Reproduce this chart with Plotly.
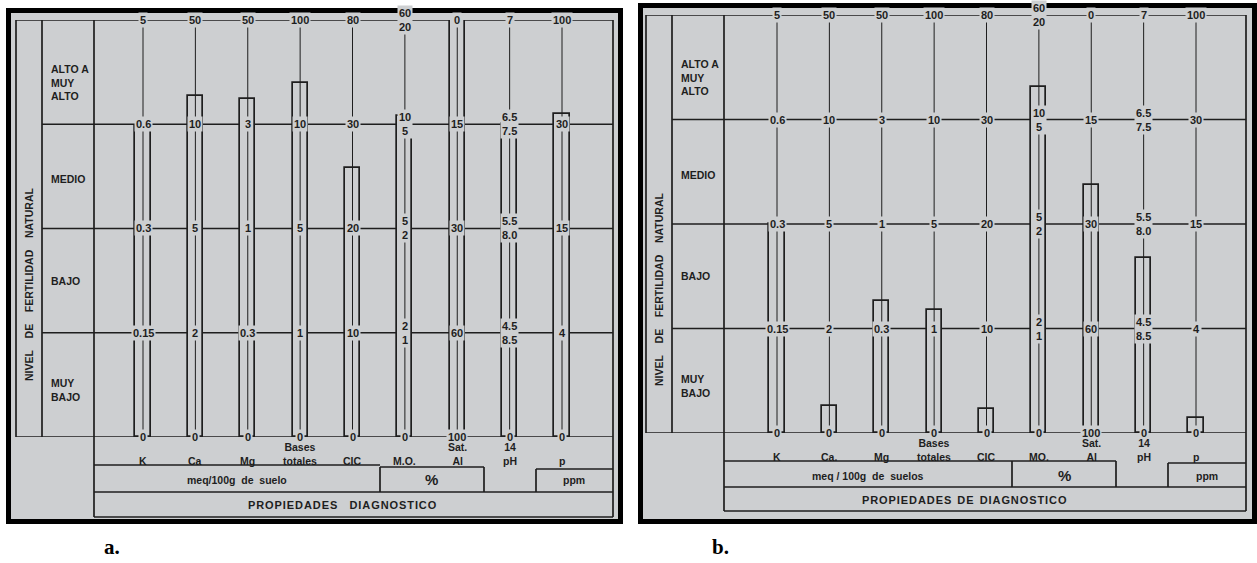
import plotly.graph_objects as go

W, H = 1257, 563

# ---------------- data ----------------
categories = ["K", "Ca", "Mg", "Bases totales", "CIC", "M.O.", "Sat. Al", "pH", "p"]
cat_labels_a = ["K", "Ca", "Mg", "Bases<br>totales", "CIC", "M.O.", "Sat.<br>Al", "14<br>pH", "p"]
cat_labels_b = ["K", "Ca.", "Mg", "Bases<br>totales", "CIC", "MO.", "Sat.<br>Al", "14<br>pH", "p"]

level_names = ["MUY<br>BAJO", "BAJO", "MEDIO", "ALTO A<br>MUY<br>ALTO"]

# scale values of each column at level boundaries 0..4 (bottom -> top)
ticks_K = ["0", "0.15", "0.3", "0.6", "5"]
ticks_Ca = ["0", "2", "5", "10", "50"]
ticks_Mg = ["0", "0.3", "1", "3", "50"]
ticks_Bases = ["0", "1", "5", "10", "100"]
ticks_CIC = ["0", "10", "20", "30", "80"]
ticks_MO = ["0", "2<br>1", "5<br>2", "10<br>5", "60<br>20"]
ticks_SatAl = ["100", "60", "30", "15", "0"]
ticks_pH = ["0", "4.5<br>8.5", "5.5<br>8.0", "6.5<br>7.5", "7"]
ticks_P = ["0", "4", "15", "30", "100"]
column_ticks = [ticks_K, ticks_Ca, ticks_Mg, ticks_Bases, ticks_CIC,
                ticks_MO, ticks_SatAl, ticks_pH, ticks_P]

# bar heights expressed on the fertility-level scale (0 = bottom, 4 = top)
heights_a = [2.98, 3.27, 3.24, 3.40, 2.58, 3.08, 4.0, 3.0, 3.1]
heights_b = [2.0, 0.26, 1.26, 1.18, 0.23, 3.31, 2.37, 1.67, 0.14]

# ---------------- style / geometry ----------------
GRAY = "#cdcfd1"
INK = "#1e1e1e"
FONT = "Liberation Sans Narrow, Liberation Sans, Arial, sans-serif"
NB = "\u00a0"
HAIR = "\u200a"


def spaced(s):
    return HAIR.join(s)


def px(x):
    return x / W


def py(y):
    return 1 - y / H


panels = [
    dict(name="a", xa="x", ya="y", heights=heights_a, cats=cat_labels_a,
         frame=(6, 8, 623, 524), left=16, mid=42, colleft=94, right=613,
         top=20, bottom=437, kx=143, px_=562,
         labline=465, pct=(380, 484, 467), ppm=(536, 469), line2=492, line3=517,
         unit_text="meq/100g" + NB * 2 + "de" + NB * 2 + "suelo", unit_x=237, unit_y=480,
         pct_x=432, ppm_x=574,
         prop_text=spaced("PROPIEDADES") + NB * 4 + spaced("DIAGNOSTICO"),
         prop_x=342, prop_y=505, nivel_y=285, tag="a.", tag_x=112),
    dict(name="b", xa="x2", ya="y2", heights=heights_b, cats=cat_labels_b,
         frame=(638, 3, 1257, 524), left=646, mid=672, colleft=724, right=1246,
         top=15, bottom=433, kx=777, px_=1196,
         labline=461, pct=(1012, 1116, 461), ppm=(1168, 463), line2=487, line3=511,
         unit_text="meq" + NB + "/" + NB + "100g" + NB * 2 + "de" + NB * 2 + "suelos", unit_x=868,
         unit_y=476, pct_x=1064, ppm_x=1207,
         prop_text=spaced("PROPIEDADES") + NB * 2 + spaced("DE") + NB * 2 + spaced("DIAGNOSTICO"),
         prop_x=965, prop_y=500, nivel_y=290, tag="b.", tag_x=720),
]

fig = go.Figure()
shapes = []
annotations = []
idx = list(range(len(categories)))
level_text_y = [0.45, 1.5, 2.47, 3.4]


def note(**kw):
    kw.setdefault("showarrow", False)
    kw.setdefault("xanchor", "center")
    kw.setdefault("yanchor", "middle")
    annotations.append(kw)


for P in panels:
    xa, ya = P["xa"], P["ya"]
    yref = ya
    xref = xa
    x0f, y0f, x1f, y1f = P["frame"]
    t = 5
    # black frame with grey sheet
    shapes.append(dict(type="rect", xref="paper", yref="paper",
                       x0=px(x0f + t / 2), x1=px(x1f - t / 2),
                       y0=py(y1f - t / 2), y1=py(y0f + t / 2),
                       fillcolor=GRAY, line=dict(color="black", width=t), layer="below"))

    def hline(xa_, xb_, yy, yr="paper", w=1.7):
        shapes.append(dict(type="line", xref="paper", yref=yr, x0=px(xa_), x1=px(xb_),
                           y0=yy, y1=yy, line=dict(color=INK, width=w), layer="below"))

    def vline(xx, ya_, yb_, w=1.7):
        shapes.append(dict(type="line", xref="paper", yref="paper", x0=px(xx), x1=px(xx),
                           y0=py(ya_), y1=py(yb_), line=dict(color=INK, width=w), layer="below"))

    L, M, C, R = P["left"], P["mid"], P["colleft"], P["right"]
    top, bot = P["top"], P["bottom"]
    # left boxes and verticals
    vline(L, top, bot)
    vline(M, top, bot)
    vline(C, top, P["line3"])
    vline(R, top, P["line3"])
    # level boundary lines (in level units)
    hline(L, R, 4, yref)
    hline(L, R, 0, yref)
    for lv in (1, 2, 3):
        hline(M, R, lv, yref)
    # bottom table
    pa, pb, pt = P["pct"]
    hline(C, pa, py(P["labline"]))
    hline(pa, pb, py(pt))
    vline(pa, pt, P["line2"])
    vline(pb, pt, P["line2"])
    qa, qt = P["ppm"]
    hline(qa, R, py(qt))
    vline(qa, qt, P["line2"])
    hline(C, R, py(P["line2"]))
    hline(C, R, py(P["line3"]))

    # bars
    fig.add_trace(go.Bar(x=idx, y=P["heights"], base=0, width=0.29,
                         marker=dict(color=GRAY, line=dict(color=INK, width=1.7)),
                         xaxis=xa, yaxis=ya, hoverinfo="skip", showlegend=False))
    # thin scale line through every column
    lx, ly = [], []
    for i in idx:
        lx += [i, i, None]
        ly += [0, 4, None]
    fig.add_trace(go.Scatter(x=lx, y=ly, mode="lines", line=dict(color=INK, width=1),
                             xaxis=xa, yaxis=ya, hoverinfo="skip", showlegend=False))

    # scale labels
    for i, tks in enumerate(column_ticks):
        for lv, txt in enumerate(tks):
            note(x=i, y=lv, xref=xref, yref=yref, text="<b>" + txt + "</b>",
                 bgcolor=GRAY, borderpad=1,
                 font=dict(family=FONT, size=11, color=INK))
    # category labels
    for i, txt in enumerate(P["cats"]):
        note(x=i, y=py(P["labline"] + 4), xref=xref, yref="paper",
             text="<b>" + txt + "</b>", yanchor="bottom",
             font=dict(family=FONT, size=10.5, color=INK))
    # level names
    for lv, txt in enumerate(level_names):
        note(x=px(M + 7), y=level_text_y[lv], xref="paper", yref=yref,
             text="<b>" + txt + "</b>", xanchor="left",
             align="left", font=dict(family=FONT, size=10.5, color=INK))
    # vertical axis title
    note(x=px((L + M) / 2), y=py(P["nivel_y"]), xref="paper", yref="paper",
         text="<b>NIVEL" + NB * 4 + "DE" + NB * 4 + "FERTILIDAD" + NB * 4 + "NATURAL</b>",
         textangle=-90, font=dict(family=FONT, size=10.5, color=INK))
    # table texts
    note(x=px(P["unit_x"]), y=py(P["unit_y"]), xref="paper", yref="paper",
         text="<b>" + P["unit_text"] + "</b>",
         font=dict(family=FONT, size=10.5, color=INK))
    note(x=px(P["pct_x"]), y=py(P["unit_y"] - 1), xref="paper", yref="paper",
         text="<b>%</b>", font=dict(family=FONT, size=15, color=INK))
    note(x=px(P["ppm_x"]), y=py(P["unit_y"]), xref="paper", yref="paper",
         text="<b>ppm</b>", font=dict(family=FONT, size=10.5, color=INK))
    note(x=px(P["prop_x"]), y=py(P["prop_y"]), xref="paper", yref="paper",
         text="<b>" + P["prop_text"] + "</b>",
         font=dict(family=FONT, size=11, color=INK))
    # panel tag
    note(x=px(P["tag_x"]), y=py(547), xref="paper", yref="paper",
         text="<b>" + P["tag"] + "</b>",
         font=dict(family="Liberation Serif, Times New Roman, serif", size=21, color="black"))


# axes: column spacing in pixels
def xaxis_for(P):
    s = (P["px_"] - P["kx"]) / 8
    return dict(domain=[px(P["colleft"]), px(P["right"])],
                range=[(P["colleft"] - P["kx"]) / s, (P["right"] - P["kx"]) / s],
                visible=False, fixedrange=True)


def yaxis_for(P):
    return dict(domain=[py(P["bottom"]), py(P["top"])], range=[0, 4],
                visible=False, fixedrange=True)


pa_, pb_ = panels
fig.update_layout(
    width=W, height=H,
    margin=dict(l=0, r=0, t=0, b=0),
    paper_bgcolor="white", plot_bgcolor="rgba(0,0,0,0)",
    xaxis=dict(**xaxis_for(pa_), anchor="y"),
    yaxis=dict(**yaxis_for(pa_), anchor="x"),
    xaxis2=dict(**xaxis_for(pb_), anchor="y2"),
    yaxis2=dict(**yaxis_for(pb_), anchor="x2"),
    shapes=shapes, annotations=annotations,
    bargap=0, showlegend=False,
)

fig.write_html("out.html", config={"displayModeBar": False},
               post_script="document.body.style.margin='0';document.body.style.overflow='hidden';")
